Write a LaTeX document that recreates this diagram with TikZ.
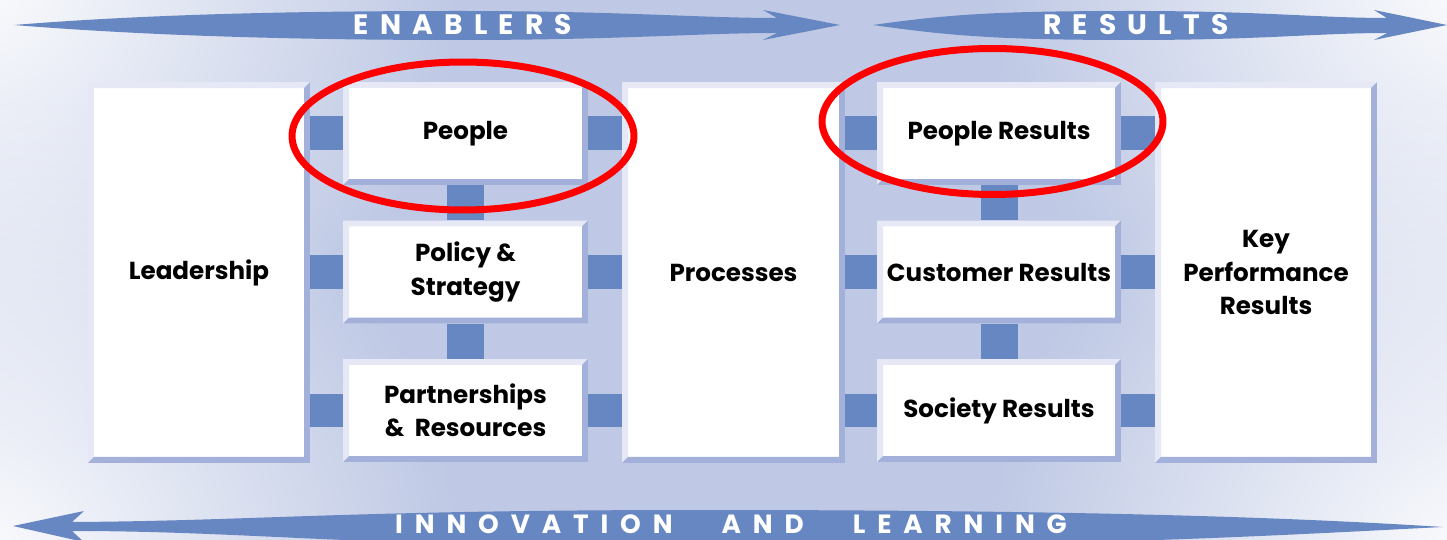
\documentclass[tikz,border=0pt]{standalone}
\usepackage{fontspec}
\setmainfont{Poppins}
\usetikzlibrary{positioning,fadings}

\definecolor{bgblue}{HTML}{BFC9E5}
\definecolor{linkblue}{HTML}{6787C2}
\definecolor{shadeblue}{HTML}{A3B1DA}
\definecolor{liteblue}{HTML}{E6E9F5}
\definecolor{ringred}{HTML}{FF0000}
\tikzfading[name=corner glow, inner color=transparent!0, outer color=transparent!100]

\begin{document}
\begin{tikzpicture}[x=0.02cm, y=-0.02cm,
  panel/.style={rectangle, fill=white, inner sep=0pt, align=center,
    font=\fontsize{14}{19}\selectfont\bfseries,
    path picture={
      \path (path picture bounding box.south west) coordinate (sw)
            (path picture bounding box.north east) coordinate (ne);
      \fill[liteblue] (sw) -- (sw |- ne) -- (ne) -- ([shift={(-3.4pt,-3.4pt)}]ne)
        -- ([shift={(3.4pt,-3.4pt)}]sw |- ne) -- ([shift={(3.4pt,3.4pt)}]sw) -- cycle;
      \fill[shadeblue] (ne) -- (ne |- sw) -- (sw) -- ([shift={(3.4pt,3.4pt)}]sw)
        -- ([shift={(-3.4pt,3.4pt)}]ne |- sw) -- ([shift={(-3.4pt,-3.4pt)}]ne) -- cycle;
    }},
  tallbox/.style={panel, minimum width=4.44cm, minimum height=7.62cm},
  smallbox/.style={panel, minimum width=4.9cm, minimum height=2.06cm},
  link/.style={draw=linkblue, line width=0.68cm},
  banner/.style={fill=linkblue},
  bannertext/.style={text=white, inner sep=0pt,
    font=\fontsize{16}{16}\selectfont\bfseries\addfontfeature{LetterSpace=40}},
  glow/.style={fill=white, path fading=corner glow},
  ring/.style={draw=ringred, line width=0.14cm}
]
  \useasboundingbox (0,0) rectangle (1447,540);
  \clip (0,0) rectangle (1447,540);

  % background with pale corners
  \fill[bgblue] (0,0) rectangle (1447,540);
  \fill[glow] (-40,-40) circle [radius=10cm];
  \fill[glow] (1487,-40) circle [radius=10cm];
  \fill[glow] (-40,580) circle [radius=10cm];
  \fill[glow] (1487,580) circle [radius=10cm];

  % banner arrows
  \fill[banner] (14,25) .. controls (150,14) and (300,11) .. (460,11)
    .. controls (620,11) and (700,18) .. (777,18) -- (763,10) -- (840,25)
    -- (763,40) -- (777,33) .. controls (700,33) and (620,40) .. (460,40)
    .. controls (300,40) and (150,36) .. (14,25) -- cycle;
  \fill[banner] (873,25) .. controls (950,14) and (1000,11) .. (1135,11)
    .. controls (1260,11) and (1320,18) .. (1387,18) -- (1374,10) -- (1447,25)
    -- (1374,40) -- (1387,33) .. controls (1320,33) and (1260,40) .. (1135,40)
    .. controls (1000,40) and (950,36) .. (873,25) -- cycle;
  \fill[banner] (13,526) -- (84,511) -- (72,522) .. controls (250,521) and (350,510) .. (700,510)
    .. controls (1100,510) and (1300,518) .. (1443,527)
    .. controls (1300,534) and (1100,547) .. (700,547)
    .. controls (350,547) and (250,531) .. (72,531) -- (84,542) -- cycle;

  \node[bannertext] (enablers) at (463,25) {ENABLERS};
  \node[bannertext] (results)  at (1136,25) {RESULTS};
  \node[bannertext, font=\fontsize{15}{15}\selectfont\bfseries\addfontfeature{LetterSpace=45}]
    (innov) at (731,524) {INNOVATION\hspace{18pt} AND\hspace{18pt} LEARNING};

  % the nine criteria
  \node[tallbox]  (lead)     at (199,272.5)   {Leadership};
  \node[smallbox] (people)   at (465.5,133.5) {People};
  \node[smallbox] (policy)   at (465.5,272)   {Policy \&\\Strategy};
  \node[smallbox] (partners) at (465.5,410.5) {Partnerships\\\&~~Resources};
  \node[tallbox, minimum width=4.46cm] (proc) at (733.5,272.5) {Processes};
  \node[smallbox, minimum width=4.88cm] (presults) at (999,133.5) {People Results};
  \node[smallbox, minimum width=4.88cm] (cresults) at (999,272)   {Customer Results};
  \node[smallbox, minimum width=4.88cm] (sresults) at (999,410.5) {Society Results};
  \node[tallbox]  (kpr)      at (1266,272.5)  {Key\\Performance\\Results};

  \draw[link] (lead.east |- people) -- (people.west);
  \draw[link] (lead.east |- policy) -- (policy.west);
  \draw[link] (lead.east |- partners) -- (partners.west);
  \draw[link] (people.east) -- (proc.west |- people);
  \draw[link] (policy.east) -- (proc.west |- policy);
  \draw[link] (partners.east) -- (proc.west |- partners);
  \draw[link] (proc.east |- presults) -- (presults.west);
  \draw[link] (proc.east |- cresults) -- (cresults.west);
  \draw[link] (proc.east |- sresults) -- (sresults.west);
  \draw[link] (presults.east) -- (kpr.west |- presults);
  \draw[link] (cresults.east) -- (kpr.west |- cresults);
  \draw[link] (sresults.east) -- (kpr.west |- sresults);
  \draw[link, line width=0.74cm] (people.south) -- (policy.north);
  \draw[link, line width=0.74cm] (policy.south) -- (partners.north);
  \draw[link, line width=0.74cm] (presults.south) -- (cresults.north);
  \draw[link, line width=0.74cm] (cresults.south) -- (sresults.north);

  % highlighted criteria
  \draw[ring] (463,136) ellipse [x radius=3.42cm, y radius=1.48cm];
  \draw[ring] (992.5,121.5) ellipse [x radius=3.41cm, y radius=1.46cm];
\end{tikzpicture}
\end{document}
